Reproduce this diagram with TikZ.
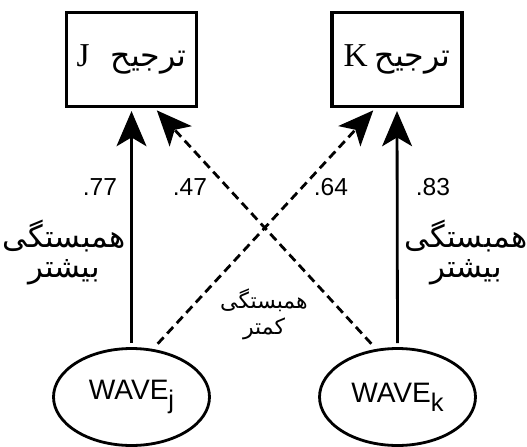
\documentclass[tikz,border=0pt]{standalone}
\usepackage{fontspec}
\setmainfont{Liberation Serif}
\setsansfont{Liberation Sans}
\newfontfamily\arabicfont[Script=Arabic]{DejaVu Sans}
\usetikzlibrary{shapes.geometric,arrows.meta}
\TeXXeTstate=1
\newcommand{\pref}[2]{\fontsize{19}{21}\selectfont #1\hspace{#2}{\arabicfont\fontsize{18}{20}\selectfont\beginR ترجیح\endR}}
\newcommand{\wavesub}[1]{WAVE\raisebox{-5pt}{\fontsize{14.5}{15}\selectfont #1}}
\tikzset{
  pref/.style={draw,line width=2.2pt,minimum width=2.6cm,minimum height=1.88cm,inner sep=0pt},
  wave/.style={draw,ellipse,line width=1.6pt,minimum width=3.12cm,minimum height=1.94cm,inner sep=0pt,font=\sffamily\fontsize{16}{18}\selectfont},
  arr/.style={-{Stealth[length=20pt,width=17pt,inset=5pt]},line width=1.6pt},
  weak/.style={arr,dash pattern=on 5pt off 3pt},
  coef/.style={font=\sffamily\fontsize{14}{16}\selectfont},
  fa/.style={font=\arabicfont\fontsize{17.5}{19}\selectfont},
  fasmall/.style={font=\arabicfont\fontsize{12.5}{14}\selectfont}
}
\begin{document}
\begin{tikzpicture}[x=0.02cm,y=-0.02cm]
	\useasboundingbox (0,0) rectangle (527,446);
	% boxes and latent variables
	\node[pref] (bj) at (131.5,59.5) {\pref{J}{12pt}};
	\node[pref] (bk) at (397,59.5) {\pref{K}{4pt}};
	\node[wave] (wj) at (131.5,397) {\wavesub{j}};
	\node[wave] (wk) at (397.5,397) {\wavesub{k}};
	% paths
	\draw[arr,shorten <=2.3pt,shorten >=1.5pt] (wj.north) -- (bj.south);
	\draw[arr,shorten <=2.3pt,shorten >=1.5pt] (wk.north) -- (bk.south);
	\draw[weak,shorten <=4pt,shorten >=1.5pt] (wj.66) -- ([xshift=-12.5pt]bk.south);
	\draw[weak,shorten <=4pt,shorten >=1.5pt] (wk.114) -- ([xshift=13.4pt]bj.south);
	% coefficients
	\node[coef] at (100,187) {.77};
	\node[coef] at (190,187) {.47};
	\node[coef] at (331,187) {.64};
	\node[coef] at (433,187) {.83};
	% notes
	\node[fa] at (64,236) {\beginR همبستگی\endR};
	\node[fa] at (64,272) {\beginR بیشتر\endR};
	\node[fa] at (466,236) {\beginR همبستگی\endR};
	\node[fa] at (466,272) {\beginR بیشتر\endR};
	\node[fasmall] at (264,300) {\beginR همبستگی\endR};
	\node[fasmall] at (264,329) {\beginR کمتر\endR};
\end{tikzpicture}
\end{document}
